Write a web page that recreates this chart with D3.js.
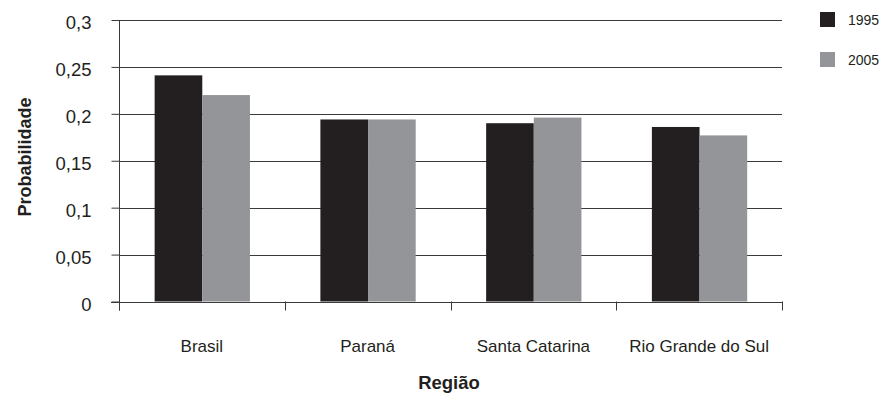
<!DOCTYPE html>
<html>
<head>
<meta charset="utf-8">
<script src="https://cdn.jsdelivr.net/npm/d3@7"></script>
<style>
  html, body { margin: 0; padding: 0; background: #fff; }
  svg { display: block; }
  text { font-family: "Liberation Sans", Arial, sans-serif; fill: #231f20; }
</style>
</head>
<body>
<svg id="chart" width="880" height="396"></svg>
<script>
// Probabilidade por região, 1995 e 2005
const regions = ["Brasil", "Paraná", "Santa Catarina", "Rio Grande do Sul"];
const years = ["1995", "2005"];
const values1995 = [0.241, 0.194, 0.190, 0.186];
const values2005 = [0.220, 0.194, 0.196, 0.177];
const yTicks = [0, 0.05, 0.1, 0.15, 0.2, 0.25, 0.3];
const yTickLabels = ["0", "0,05", "0,1", "0,15", "0,2", "0,25", "0,3"];
const colors = ["#231f20", "#939598"];

const seriesValues = [values1995, values2005];

const svg = d3.select("#chart");
const plotLeft = 119, plotRight = 782, plotTop = 20, plotBottom = 301.5;
const lineColor = "#3a3a3a";

const x = d3.scaleBand().domain(regions).range([plotLeft, plotRight]).padding(0);
const xInner = d3.scaleBand().domain(years)
  .range([x.bandwidth() * 0.215, x.bandwidth() * 0.79]).padding(0);
const y = d3.scaleLinear().domain([0, 0.3]).range([plotBottom, plotTop]);

// gridlines
svg.append("g")
  .selectAll("line")
  .data(yTicks.filter(d => d > 0))
  .join("line")
  .attr("x1", plotLeft).attr("x2", plotRight)
  .attr("y1", d => Math.round(y(d)) + 0.5).attr("y2", d => Math.round(y(d)) + 0.5)
  .attr("stroke", lineColor).attr("stroke-width", 1);

// bars
const groups = svg.append("g")
  .selectAll("g")
  .data(regions)
  .join("g")
  .attr("transform", d => `translate(${x(d)},0)`);

groups.selectAll("rect")
  .data((d, i) => years.map((yr, j) => ({ yr, v: seriesValues[j][i], j })))
  .join("rect")
  .attr("x", d => xInner(d.yr))
  .attr("width", xInner.bandwidth())
  .attr("y", d => y(d.v))
  .attr("height", d => plotBottom - y(d.v))
  .attr("fill", d => colors[d.j]);

// y axis
const yAxis = d3.axisLeft(y).tickValues(yTicks)
  .tickFormat((d, i) => yTickLabels[i]).tickSize(8).tickPadding(20);
const gy = svg.append("g").attr("transform", `translate(${plotLeft + 0.5},0)`).call(yAxis);
gy.select(".domain").attr("stroke", lineColor).attr("d", `M0,${plotTop}V${plotBottom + 9}`);
gy.selectAll(".tick line").attr("stroke", lineColor);
gy.selectAll(".tick text")
  .attr("font-size", 18.5)
  .attr("font-family", "Liberation Sans, Arial, sans-serif")
  .attr("fill", "#231f20")
  .attr("y", 3);

// x axis
const xTickPositions = regions.map(r => x(r)).concat([plotRight]);
svg.append("line")
  .attr("x1", plotLeft - 8).attr("x2", plotRight)
  .attr("y1", Math.round(plotBottom) + 0.5).attr("y2", Math.round(plotBottom) + 0.5)
  .attr("stroke", lineColor);
svg.append("g").selectAll("line")
  .data(xTickPositions)
  .join("line")
  .attr("x1", d => Math.round(d) + 0.5).attr("x2", d => Math.round(d) + 0.5)
  .attr("y1", plotBottom).attr("y2", plotBottom + 9)
  .attr("stroke", lineColor);

svg.append("g").selectAll("text")
  .data(regions)
  .join("text")
  .attr("x", d => x(d) + x.bandwidth() / 2)
  .attr("y", 352)
  .attr("text-anchor", "middle")
  .attr("font-size", 17)
  .text(d => d);

// axis titles
svg.append("text")
  .attr("x", 449).attr("y", 389)
  .attr("text-anchor", "middle")
  .attr("font-size", 18.5).attr("font-weight", "bold")
  .text("Região");

svg.append("text")
  .attr("transform", "translate(31,157) rotate(-90)")
  .attr("text-anchor", "middle")
  .attr("font-size", 18).attr("font-weight", "bold")
  .text("Probabilidade");

// legend
const legend = svg.append("g").selectAll("g")
  .data(years)
  .join("g")
  .attr("transform", (d, i) => `translate(820,${12 + i * 40})`);
legend.append("rect").attr("width", 15).attr("height", 15).attr("fill", (d, i) => colors[i]);
legend.append("text").attr("x", 28).attr("y", 13).attr("font-size", 14).text(d => d);
</script>
</body>
</html>
